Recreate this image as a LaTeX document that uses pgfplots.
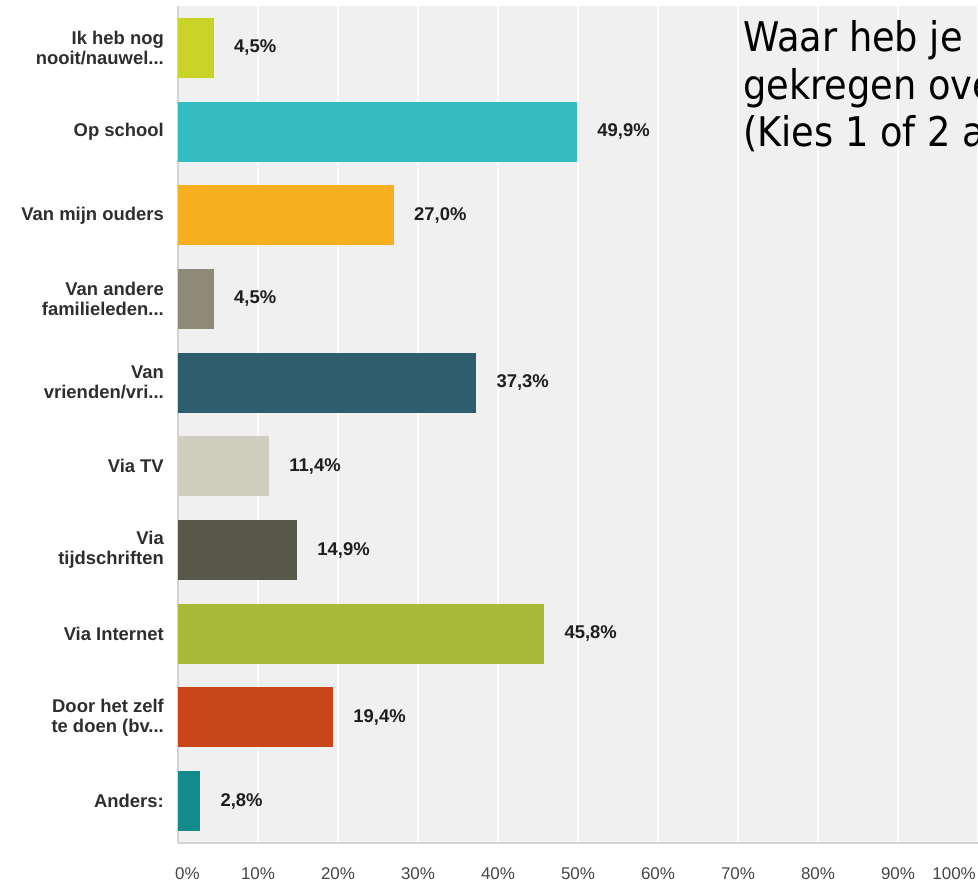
\documentclass[border=0pt]{standalone}
\usepackage{fontspec}
\setmainfont{Liberation Sans}
\newfontfamily\titlefont[FakeStretch=0.9]{DejaVu Sans}
\usepackage{pgfplots}
\pgfplotsset{compat=1.18}
\definecolor{bgc}{HTML}{F0F0F0}
\definecolor{axc}{HTML}{D4D4D4}
\definecolor{labc}{HTML}{2E2E2E}
\definecolor{tickc}{HTML}{454545}
\definecolor{valc}{HTML}{1E1E1E}
\definecolor{c1}{HTML}{CAD328}
\definecolor{c2}{HTML}{33BCBF}
\definecolor{c3}{HTML}{F6AF1E}
\definecolor{c4}{HTML}{8D8A78}
\definecolor{c5}{HTML}{2E5D6D}
\definecolor{c6}{HTML}{CFCEBF}
\definecolor{c7}{HTML}{57584A}
\definecolor{c8}{HTML}{A9BA38}
\definecolor{c9}{HTML}{C9461A}
\definecolor{c10}{HTML}{138A8C}
\newcommand{\dd}{.\kern0pt.\kern0pt.}
\begin{document}
\begin{tikzpicture}
\useasboundingbox (0,0) rectangle (978bp,884bp);
\begin{axis}[
  at={(178bp,41bp)}, anchor=south west,
  scale only axis, width=800bp, height=837bp,
  xmin=0, xmax=100, ymin=-0.5, ymax=9.5, y dir=reverse,
  xbar, bar width=60bp, bar shift=0pt,
  axis background/.style={fill=bgc},
  axis x line*=bottom, axis y line*=left,
  axis line style={draw=axc, line width=1.5bp},
  xtick={0,10,...,100}, xticklabels={},
  major tick length=0pt,
  xmajorgrids, grid style={white, line width=1.5bp},
  ytick={0,1,2,3,4,5,6,7,8,9},
  yticklabels={{Ik heb nog\\nooit/nauwel\dd},{Op school},{Van mijn ouders},{Van andere\\familieleden\dd},{Van\\vrienden/vri\dd},{Via TV},{Via\\tijdschriften},{Via Internet},{Door het zelf\\te doen (bv\dd},{Anders:}},
  yticklabel style={align=right, font=\bfseries\fontsize{18.5}{20}\selectfont, text=labc, inner sep=0pt, xshift=-14bp},
  /pgf/number format/assume math mode=true,
  point meta=x,
  nodes near coords={\pgfmathprintnumber[fixed,fixed zerofill,precision=1,use comma,assume math mode=true]{\pgfplotspointmeta}\%},
  nodes near coords style={anchor=west, font=\bfseries\fontsize{18.5}{20}\selectfont, text=valc, inner sep=0pt, xshift=20bp},
  clip=false,
]
\addplot[fill=c1, draw=none] coordinates {(4.5,0)};
\addplot[fill=c2, draw=none] coordinates {(49.9,1)};
\addplot[fill=c3, draw=none] coordinates {(27.0,2)};
\addplot[fill=c4, draw=none] coordinates {(4.5,3)};
\addplot[fill=c5, draw=none] coordinates {(37.3,4)};
\addplot[fill=c6, draw=none] coordinates {(11.4,5)};
\addplot[fill=c7, draw=none] coordinates {(14.9,6)};
\addplot[fill=c8, draw=none] coordinates {(45.8,7)};
\addplot[fill=c9, draw=none] coordinates {(19.4,8)};
\addplot[fill=c10, draw=none] coordinates {(2.8,9)};
\pgfplotsinvokeforeach{10,20,30,40,50,60,70,80,90}{
  \node[anchor=north, inner sep=0pt, font=\fontsize{17}{20}\selectfont, text=tickc, yshift=-24bp] at (axis cs:#1,9.5) {#1\%};
}
\node[anchor=north west, inner sep=0pt, font=\fontsize{17}{20}\selectfont, text=tickc, yshift=-24bp, xshift=-3bp] at (axis cs:0,9.5) {0\%};
\node[anchor=north east, inner sep=0pt, font=\fontsize{17}{20}\selectfont, text=tickc, yshift=-24bp, xshift=-2bp] at (axis cs:100,9.5) {100\%};
\end{axis}
\node[anchor=base west, inner sep=0pt, font=\titlefont\fontsize{41}{50}\selectfont, text=black] at (743bp,832bp) {Waar heb je};
\node[anchor=base west, inner sep=0pt, font=\titlefont\fontsize{41}{50}\selectfont, text=black] at (743bp,784bp) {gekregen over};
\node[anchor=base west, inner sep=0pt, font=\titlefont\fontsize{41}{50}\selectfont, text=black] at (743bp,737bp) {(Kies 1 of 2 antwoorden)};
\end{tikzpicture}
\end{document}
